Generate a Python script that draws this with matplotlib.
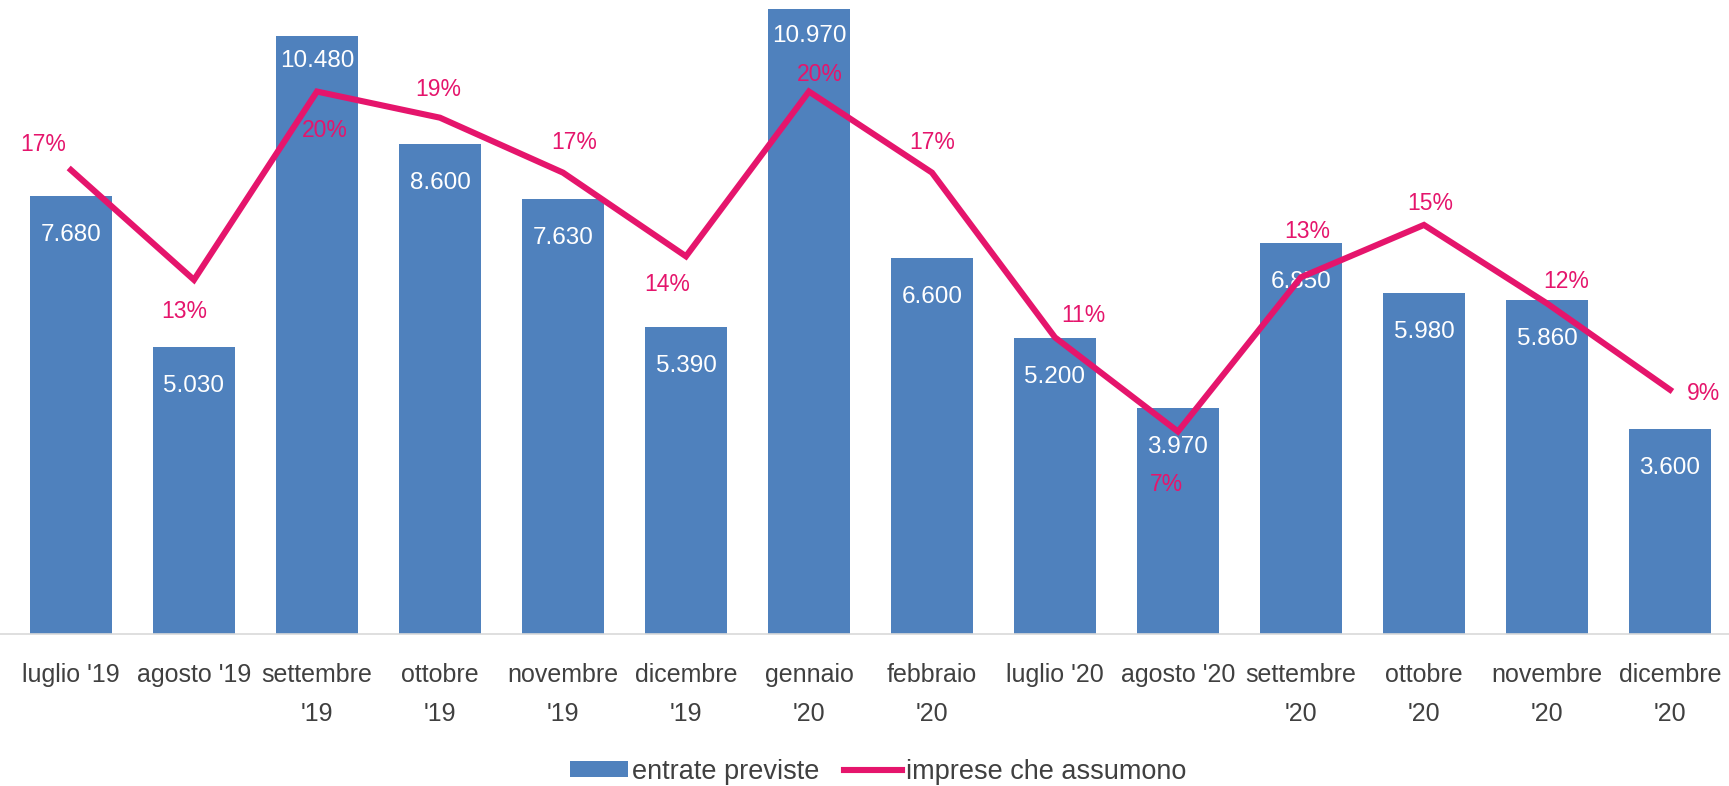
import matplotlib.pyplot as plt
from matplotlib.patches import Patch
from matplotlib.lines import Line2D

plt.rcParams['font.family'] = ['Liberation Sans', 'DejaVu Sans']

# dati
mesi = ["luglio '19", "agosto '19", "settembre\n'19", "ottobre\n'19", "novembre\n'19",
        "dicembre\n'19", "gennaio\n'20", "febbraio\n'20", "luglio '20", "agosto '20",
        "settembre\n'20", "ottobre\n'20", "novembre\n'20", "dicembre\n'20"]
entrate = [7680, 5030, 10480, 8600, 7630, 5390, 10970, 6600, 5200, 3970, 6850, 5980, 5860, 3600]
imprese = [17, 12.8, 20, 19, 16.9, 13.7, 20, 16.9, 10.6, 7, 12.9, 14.9, 11.9, 8.6]

BLU = '#4F81BD'
ROSA = '#E5156C'
GRIGIO = '#404040'

# posizione etichette (pixel)
off_entrate = [-39, -39, -25, -39, -39, -39, -27, -39, -39, -39, -39, -39, -39, -39]
off_imprese = [(-28, 26), (-10, -32), (8, -39), (-2, 28), (11, 30), (-19, -28), (11, 17),
               (0, 30), (28, 22), (-12, -53), (6, 46), (6, 21), (19, 22), (34, -4)]

fig = plt.figure(figsize=(17.29, 7.86), dpi=100)
ax = fig.add_axes([0, 0.1934, 1, 0.8066])
x = list(range(len(mesi)))

ax.bar(x, entrate, width=0.66, color=BLU)
ax.set_xlim(-0.577, 13.48)
ax.set_ylim(0, 11120)
for s in ['top', 'right', 'left']:
    ax.spines[s].set_visible(False)
ax.spines['bottom'].set_color('#D9D9D9')
ax.spines['bottom'].set_linewidth(1.2)
ax.set_yticks([])
ax.set_xticks(x, mesi)
ax.tick_params(axis='x', length=0, pad=21, labelsize=18, labelcolor=GRIGIO)
for t in ax.get_xticklabels():
    t.set_linespacing(1.8)

for i, v in enumerate(entrate):
    ax.annotate(f"{v:,}".replace(',', '.'), (i, v), xytext=(0, off_entrate[i]),
                textcoords='offset pixels', ha='center', va='center',
                color='white', fontsize=17.5)

ax2 = ax.twinx()
ax2.plot(x, imprese, color=ROSA, linewidth=4.4, solid_joinstyle='miter')
ax2.set_ylim(-0.74, 23.5)
ax2.axis('off')

for i, p in enumerate(imprese):
    ax2.annotate(f"{p:.0f}%", (i, p), xytext=off_imprese[i],
                 textcoords='offset pixels', ha='center', va='center',
                 color=ROSA, fontsize=16.5)

handles = [Patch(facecolor=BLU, edgecolor='none'),
           Line2D([], [], color=ROSA, linewidth=4.4)]
fig.legend(handles, ['entrate previste', 'imprese che assumono'], loc='center',
           bbox_to_anchor=(0.508, 0.018), ncol=2, frameon=False, fontsize=19.5,
           handlelength=2.15, handleheight=0.52, handletextpad=0.15,
           columnspacing=0.9, labelcolor=GRIGIO)

fig.savefig('out.png', dpi=100)
